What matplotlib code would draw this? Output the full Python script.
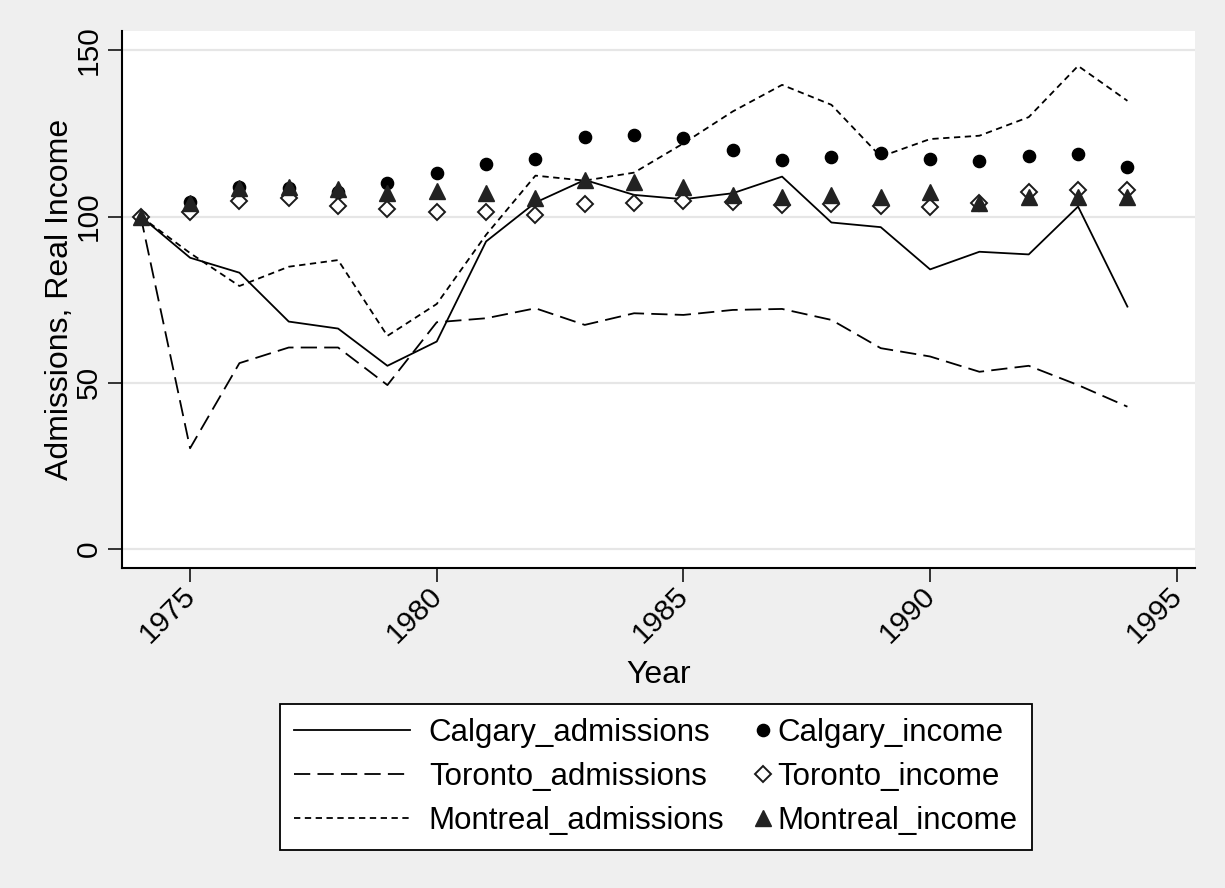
import matplotlib
matplotlib.use("Agg")
import matplotlib.pyplot as plt
from matplotlib.legend_handler import HandlerLine2D
from matplotlib.transforms import ScaledTranslation

plt.rcParams["font.family"] = ["Liberation Sans", "DejaVu Sans"]

years = list(range(1974, 1995))

calgary_adm = [100, 87.6, 83.1, 68.4, 66.3, 55.1, 62.4, 92.5, 104.2, 111.0, 106.5,
               105.2, 107.0, 112.0, 98.2, 96.8, 84.1, 89.4, 88.6, 103.0, 72.9]
toronto_adm = [100, 30.3, 55.9, 60.6, 60.6, 49.3, 68.2, 69.4, 72.4, 67.4, 70.9,
               70.4, 71.9, 72.2, 68.9, 60.4, 57.9, 53.3, 55.1, 49.3, 42.8]
montreal_adm = [100, 89.0, 79.1, 84.9, 86.9, 64.1, 73.7, 94.5, 112.3, 110.8, 113.2,
                122.0, 131.6, 139.6, 133.6, 118.0, 123.3, 124.3, 129.9, 145.3, 134.8]

calgary_inc = [100, 104.3, 108.8, 108.6, 107.5, 110.0, 113.2, 115.9, 117.3, 123.9, 124.5,
               123.5, 120.0, 117.0, 118.0, 119.0, 117.3, 116.7, 118.3, 118.7, 115.0]
toronto_inc = [100, 101.3, 104.8, 105.5, 103.2, 102.3, 101.5, 101.3, 100.5, 103.7, 104.0,
               104.7, 104.3, 103.5, 103.8, 103.2, 103.0, 104.0, 107.5, 108.0, 108.0]
montreal_inc = [100, 104.0, 108.5, 108.8, 108.3, 107.0, 107.7, 107.0, 105.5, 111.0, 110.5,
                108.8, 106.5, 106.0, 106.5, 106.0, 107.5, 104.0, 106.0, 106.0, 106.0]

xticks = [1975, 1980, 1985, 1990, 1995]
yticks = [0, 50, 100, 150]


class MarkerAtRight(HandlerLine2D):
    # put the legend marker at the right end of the handle box (Stata style)
    def get_xdata(self, legend, xdescent, ydescent, width, height, fontsize):
        x = width - xdescent + 0.15 * fontsize
        return [x, x], [x]


BG = "#efefef"
fig = plt.figure(figsize=(12.25, 8.88), dpi=100, facecolor=BG)
ax = fig.add_axes([122 / 1225, 1 - 568 / 888, (1195 - 122) / 1225, (568 - 31) / 888])
ax.set_facecolor("white")

lw = 1.3
h1, = ax.plot(years, calgary_adm, color="black", lw=lw, label="Calgary_admissions")
h3, = ax.plot(years, toronto_adm, color="black", lw=lw, dashes=(9, 4), label="Toronto_admissions")
h5, = ax.plot(years, montreal_adm, color="black", lw=lw, dashes=(3.5, 2.5), label="Montreal_admissions")
h2, = ax.plot(years, calgary_inc, ls="none", marker="o", ms=8.8, color="black", label="Calgary_income")
h4, = ax.plot(years, toronto_inc, ls="none", marker="D", ms=8.3, mfc="white", mec="#1a1a1a",
              mew=1.4, label="Toronto_income")
h6, = ax.plot(years, montreal_inc, ls="none", marker="^", ms=11, color="#222222", label="Montreal_income")

ax.set_xlim(1973.62, 1995.37)
ax.set_ylim(-5.72, 155.8)
ax.set_xticks(xticks)
ax.set_yticks(yticks)
ax.grid(axis="y", color="#e6e6e6", lw=1.6)
ax.set_axisbelow(True)
for s in ["top", "right"]:
    ax.spines[s].set_visible(False)
for s in ["left", "bottom"]:
    ax.spines[s].set_linewidth(1.5)

ax.tick_params(axis="both", direction="out", length=10, width=1.1, labelsize=21.5)
ax.tick_params(axis="x", pad=0)
ax.tick_params(axis="y", pad=3.6)
shift = ScaledTranslation(-9 / 100, 0, fig.dpi_scale_trans)
for lab in ax.get_xticklabels():
    lab.set_rotation(45)
    lab.set_ha("right")
    lab.set_va("top")
    lab.set_rotation_mode("anchor")
    lab.set_transform(lab.get_transform() + shift)
for lab in ax.get_yticklabels():
    lab.set_rotation(90)
    lab.set_va("center")

ax.set_xlabel("Year", fontsize=23, labelpad=8)
ax.set_ylabel("Admissions, Real Income", fontsize=23, labelpad=0)

handles = [h1, h3, h5, h2, h4, h6]
hmap = {h2: MarkerAtRight(), h4: MarkerAtRight(), h6: MarkerAtRight()}
leg = fig.legend(handles=handles, labels=[h.get_label() for h in handles], ncol=2,
                 loc="upper center", bbox_to_anchor=(656 / 1225, 1 - 704 / 888),
                 fontsize=22.5, handlelength=3.7, handletextpad=0.6, columnspacing=-2.6,
                 labelspacing=0.44, borderpad=0.45, borderaxespad=0, fancybox=False,
                 framealpha=1, edgecolor="black", handler_map=hmap)
leg.get_frame().set_linewidth(1.3)

fig.savefig("out.png", dpi=100, facecolor=BG)
